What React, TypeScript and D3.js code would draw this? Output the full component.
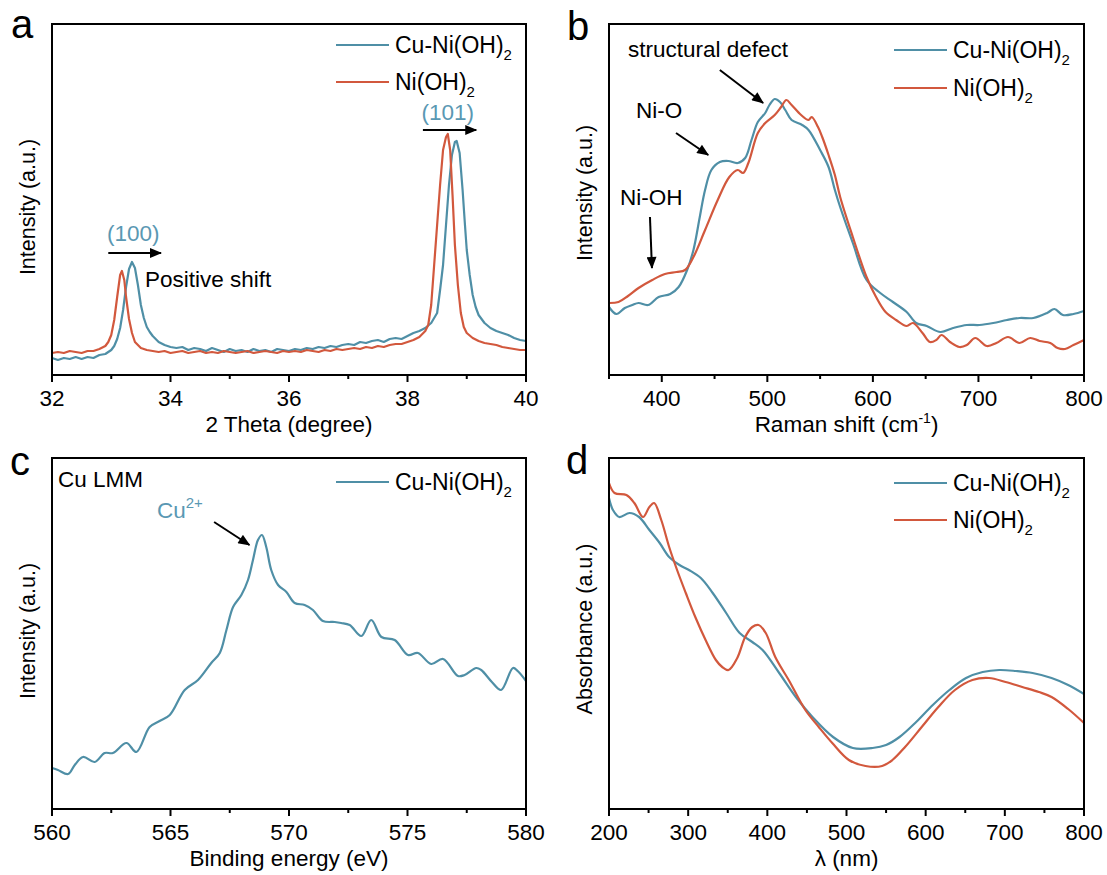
import React from 'react';
import * as d3 from 'd3';

type Pt = [number, number];

const TEAL = '#4f8fa6';
const RED = '#d2583d';
const LABEL_TEAL = '#5a98b3';
const FONT = '"Liberation Sans", Arial, Helvetica, sans-serif';
const FS = 22.5;

// (a) XRD, 2 theta (degree) vs intensity (a.u.)
const xrdCu: Pt[] = [
  [32.0, 17], [32.1, 15], [32.2, 17], [32.3, 16], [32.4, 18], [32.5, 16], [32.6, 18], [32.7, 17],
  [32.8, 20], [32.9, 21], [33.0, 25], [33.05, 29], [33.1, 36], [33.15, 47], [33.2, 65], [33.25, 88],
  [33.3, 106], [33.35, 113], [33.4, 107], [33.45, 90], [33.5, 70], [33.55, 57], [33.6, 48], [33.65, 43],
  [33.7, 39], [33.8, 33], [33.9, 30], [34.0, 28], [34.1, 27], [34.2, 28], [34.3, 25], [34.4, 27],
  [34.5, 26], [34.6, 24], [34.7, 27], [34.8, 25], [34.9, 23], [35.0, 26], [35.1, 24], [35.2, 25],
  [35.3, 23], [35.4, 26], [35.5, 24], [35.6, 25], [35.7, 23], [35.8, 26], [35.9, 25], [36.0, 24],
  [36.1, 26], [36.2, 25], [36.3, 27], [36.4, 26], [36.5, 28], [36.6, 27], [36.7, 29], [36.8, 28],
  [36.9, 30], [37.0, 31], [37.1, 30], [37.2, 33], [37.3, 32], [37.4, 34], [37.5, 35], [37.6, 33],
  [37.7, 36], [37.8, 37], [37.9, 36], [38.0, 39], [38.1, 42], [38.2, 44], [38.3, 47], [38.4, 52],
  [38.5, 62], [38.55, 85], [38.6, 110], [38.65, 150], [38.7, 190], [38.75, 220], [38.8, 233], [38.83, 234],
  [38.88, 222], [38.93, 185], [38.97, 150], [39.0, 125], [39.05, 100], [39.1, 80], [39.15, 68], [39.2, 60],
  [39.3, 52], [39.4, 47], [39.5, 44], [39.6, 42], [39.7, 40], [39.8, 37], [39.9, 35], [40.0, 34],
];
const xrdNi: Pt[] = [
  [32.0, 22], [32.1, 23], [32.2, 22], [32.3, 24], [32.4, 23], [32.5, 22], [32.6, 24], [32.7, 24],
  [32.8, 26], [32.9, 29], [32.95, 33], [33.0, 40], [33.05, 55], [33.1, 78], [33.15, 100], [33.18, 104],
  [33.22, 95], [33.25, 78], [33.3, 56], [33.35, 42], [33.4, 33], [33.5, 27], [33.6, 25], [33.7, 24],
  [33.8, 23], [33.9, 24], [34.0, 22], [34.1, 23], [34.2, 24], [34.3, 22], [34.4, 23], [34.5, 24],
  [34.6, 22], [34.7, 23], [34.8, 22], [34.9, 24], [35.0, 23], [35.1, 22], [35.2, 23], [35.3, 24],
  [35.4, 22], [35.5, 23], [35.6, 24], [35.7, 23], [35.8, 22], [35.9, 24], [36.0, 23], [36.1, 24],
  [36.2, 23], [36.3, 25], [36.4, 24], [36.5, 23], [36.6, 25], [36.7, 24], [36.8, 26], [36.9, 25],
  [37.0, 26], [37.1, 27], [37.2, 26], [37.3, 28], [37.4, 27], [37.5, 29], [37.6, 28], [37.7, 30],
  [37.8, 31], [37.9, 31], [38.0, 33], [38.1, 35], [38.2, 38], [38.3, 44], [38.35, 50], [38.4, 70],
  [38.45, 110], [38.5, 150], [38.55, 190], [38.6, 225], [38.65, 238], [38.68, 241], [38.72, 225], [38.76, 180],
  [38.8, 130], [38.85, 90], [38.9, 62], [38.95, 48], [39.0, 42], [39.1, 37], [39.2, 34], [39.3, 32],
  [39.4, 31], [39.5, 30], [39.6, 28], [39.7, 27], [39.8, 26], [39.9, 25], [40.0, 25],
];

// (b) Raman shift (cm-1) vs intensity
const ramanCu: Pt[] = [
  [350, 68], [357, 61], [365, 67], [372, 70], [378, 72], [387, 70], [397, 78], [408, 81], [416, 88],
  [424, 105], [430, 125], [436, 158], [441, 185], [447, 205], [455, 213], [463, 214], [472, 212],
  [479, 217], [485, 235], [491, 253], [498, 262], [502, 270], [507, 276], [512, 273], [517, 265],
  [523, 255], [533, 250], [539, 245], [550, 225], [558, 208], [564, 185], [569, 168], [581, 132],
  [594, 95], [607, 82], [619, 73], [632, 63], [641, 52], [651, 49], [664, 43], [676, 47], [689, 50],
  [701, 50], [714, 52], [727, 55], [739, 57], [752, 57], [765, 62], [772, 66], [780, 60], [790, 61], [800, 64],
];
const ramanNi: Pt[] = [
  [350, 72], [359, 73], [368, 79], [378, 87], [391, 95], [403, 101], [414, 103], [422, 105], [430, 118],
  [441, 145], [453, 175], [464, 198], [472, 205], [477, 202], [482, 212], [491, 242], [498, 252],
  [507, 260], [513, 268], [518, 275], [523, 270], [532, 260], [539, 255], [542, 258], [548, 248],
  [552, 238], [558, 220], [564, 200], [569, 178], [581, 138], [594, 98], [603, 78], [612, 63],
  [622, 55], [632, 49], [638, 52], [647, 42], [654, 33], [660, 35], [665, 40], [673, 33], [682, 28],
  [689, 30], [697, 37], [708, 29], [717, 32], [728, 38], [739, 32], [749, 37], [758, 34], [768, 32],
  [775, 27], [782, 26], [790, 30], [800, 35],
];

// (c) Cu LMM, binding energy (eV)
const xpsCu: Pt[] = [
  [560.0, 41], [560.25, 39], [560.68, 35], [560.96, 44], [561.31, 52], [561.8, 47], [562.22, 56],
  [562.57, 56], [563.14, 66], [563.56, 57], [564.12, 82], [564.54, 88], [564.97, 94], [565.6, 119],
  [566.16, 129], [566.72, 146], [567.08, 156], [567.36, 179], [567.64, 202], [567.99, 214], [568.27, 229],
  [568.48, 249], [568.69, 269], [568.86, 274], [569.04, 262], [569.25, 239], [569.54, 224], [569.89, 217],
  [570.24, 206], [570.66, 204], [571.01, 199], [571.43, 188], [571.93, 187], [572.2, 186], [572.56, 184],
  [573.05, 173], [573.47, 189], [573.9, 172], [574.46, 169], [575.02, 154], [575.44, 156], [576.0, 145],
  [576.5, 150], [577.13, 133], [577.41, 134], [577.9, 141], [578.11, 139], [578.56, 127], [578.95, 119],
  [579.45, 141], [579.65, 138], [580.0, 128],
];

// (d) UV-vis absorbance, wavelength (nm)
const uvCu: Pt[] = [
  [200, 311], [205, 299], [213, 292], [226, 296], [238, 292], [251, 279], [264, 266], [276, 252],
  [289, 244], [301, 239], [316, 231], [331, 216], [348, 196], [365, 176], [381, 167], [394, 159],
  [415, 136], [436, 112], [457, 92], [483, 72], [508, 61], [533, 61], [550, 64], [567, 72], [588, 87],
  [609, 104], [630, 119], [651, 131], [672, 137], [693, 139], [714, 138], [735, 136], [759, 131],
  [780, 124], [800, 115],
];
const uvNi: Pt[] = [
  [200, 326], [207, 316], [222, 314], [232, 306], [243, 292], [251, 302], [257, 306], [266, 289],
  [276, 262], [286, 239], [297, 216], [309, 192], [322, 169], [335, 149], [343, 142], [351, 139],
  [362, 151], [372, 172], [381, 182], [389, 184], [398, 176], [410, 152], [427, 129], [448, 99],
  [465, 82], [482, 66], [503, 49], [524, 43], [545, 43], [558, 49], [574, 62], [595, 82], [616, 102],
  [637, 119], [659, 129], [680, 131], [701, 127], [722, 122], [743, 117], [759, 112], [780, 100], [800, 86],
];

const ticksA = [32, 34, 36, 38, 40];
const minorA = [33, 35, 37, 39];
const ticksB = [400, 500, 600, 700, 800];
const minorB = [350, 450, 550, 650, 750];
const ticksC = [560, 565, 570, 575, 580];
const minorC = [562.5, 567.5, 572.5, 577.5];
const ticksD = [200, 300, 400, 500, 600, 700, 800];
const minorD = [250, 350, 450, 550, 650, 750];

type Box = { left: number; right: number; top: number; bottom: number };
type Scales = { x: d3.ScaleLinear<number, number>; y: d3.ScaleLinear<number, number> };

const Formula = ({ prefix }: { prefix: string }) => (
  <>
    {prefix}Ni(OH)<tspan dy={7} fontSize={15}>2</tspan>
  </>
);

const Arrow = ({ s, from, to }: { s: Scales; from: Pt; to: Pt }) => (
  <line
    x1={s.x(from[0])} y1={s.y(from[1])} x2={s.x(to[0])} y2={s.y(to[1])}
    stroke="#000" strokeWidth={2} markerEnd="url(#head)"
  />
);

type PanelProps = {
  box: Box;
  xDomain: [number, number];
  major: number[];
  minor: number[];
  series: { data: Pt[]; color: string }[];
  curve: d3.CurveFactory;
  letter: string;
  letterPos: [number, number];
  xTitle: React.ReactNode;
  yTitle: string;
  yTitlePos: [number, number];
  legend: { color: string; label: React.ReactNode; dy: number }[];
  extra?: (s: Scales) => React.ReactNode;
};

const Panel = (p: PanelProps) => {
  const { box } = p;
  const x = d3.scaleLinear().domain(p.xDomain).range([box.left, box.right]);
  const y = d3.scaleLinear().domain([0, box.bottom - box.top]).range([box.bottom, box.top]);
  const line = d3.line<Pt>().x(d => x(d[0])).y(d => y(d[1])).curve(p.curve);

  return (
    <g>
      {p.series.map((s, i) => (
        <path key={i} d={line(s.data) ?? ''} fill="none" stroke={s.color} strokeWidth={2.2} strokeLinejoin="round" />
      ))}
      <rect x={box.left} y={box.top} width={box.right - box.left} height={box.bottom - box.top}
        fill="none" stroke="#000" strokeWidth={2} />
      {p.major.map(t => (
        <g key={t}>
          <line x1={x(t)} x2={x(t)} y1={box.bottom} y2={box.bottom + 7} stroke="#000" strokeWidth={2} />
          <text x={x(t)} y={box.bottom + 31} textAnchor="middle" fontSize={FS}>{t}</text>
        </g>
      ))}
      {p.minor.map(t => (
        <line key={t} x1={x(t)} x2={x(t)} y1={box.bottom} y2={box.bottom + 4} stroke="#000" strokeWidth={2} />
      ))}
      <text x={(box.left + box.right) / 2} y={box.bottom + 57} textAnchor="middle" fontSize={FS}>{p.xTitle}</text>
      <text transform={`translate(${p.yTitlePos[0]},${p.yTitlePos[1]}) rotate(-90)`} textAnchor="middle" fontSize={21.5}>
        {p.yTitle}
      </text>
      <text x={p.letterPos[0]} y={p.letterPos[1]} fontSize={40}>{p.letter}</text>
      {p.legend.map((l, i) => (
        <g key={i}>
          <line x1={box.right - 190} x2={box.right - 137} y1={box.top + l.dy} y2={box.top + l.dy}
            stroke={l.color} strokeWidth={2.2} />
          <text x={box.right - 131} y={box.top + l.dy + 8} fontSize={23}>{l.label}</text>
        </g>
      ))}
      {p.extra && p.extra({ x, y })}
    </g>
  );
};

const boxA: Box = { left: 52, right: 526, top: 24, bottom: 375 };
const boxB: Box = { left: 609, right: 1084, top: 24, bottom: 375 };
const boxC: Box = { left: 52, right: 526, top: 458, bottom: 809 };
const boxD: Box = { left: 609, right: 1084, top: 458, bottom: 809 };

const legendTwo = (d1: number, d2: number) => [
  { color: TEAL, label: <Formula prefix="Cu-" />, dy: d1 },
  { color: RED, label: <Formula prefix="" />, dy: d2 },
];

export default function App() {
  return (
    <svg width={1107} height={875} style={{ position: 'absolute', left: 0, top: 0, background: '#fff' }}
      fontFamily={FONT} fill="#000">
      <defs>
        <marker id="head" viewBox="0 0 12 10" refX={11} refY={5} markerWidth={14} markerHeight={10}
          markerUnits="userSpaceOnUse" orient="auto">
          <path d="M0,0 L12,5 L0,10 z" fill="#000" />
        </marker>
      </defs>

      <Panel
        box={boxA} xDomain={[32, 40]} major={ticksA} minor={minorA}
        series={[{ data: xrdCu, color: TEAL }, { data: xrdNi, color: RED }]}
        curve={d3.curveLinear}
        letter="a" letterPos={[11, 38]}
        xTitle="2 Theta (degree)" yTitle="Intensity (a.u.)" yTitlePos={[35, 207]}
        legend={legendTwo(21, 58)}
        extra={s => (
          <g fontSize={FS}>
            <text x={s.x(33.37)} y={s.y(134)} textAnchor="middle" fill={LABEL_TEAL}>(100)</text>
            <Arrow s={s} from={[32.95, 122]} to={[33.84, 122]} />
            <text x={s.x(33.57)} y={s.y(88)}>Positive shift</text>
            <text x={s.x(38.68)} y={s.y(255)} textAnchor="middle" fill={LABEL_TEAL}>(101)</text>
            <Arrow s={s} from={[38.26, 245]} to={[39.16, 245]} />
          </g>
        )}
      />

      <Panel
        box={boxB} xDomain={[350, 800]} major={ticksB} minor={minorB}
        series={[{ data: ramanCu, color: TEAL }, { data: ramanNi, color: RED }]}
        curve={d3.curveCatmullRom}
        letter="b" letterPos={[567, 40]}
        xTitle={<>Raman shift (cm<tspan dy={-9} fontSize={14}>-1</tspan><tspan dy={9}>)</tspan></>}
        yTitle="Intensity (a.u.)" yTitlePos={[592, 193]}
        legend={legendTwo(26, 64)}
        extra={s => (
          <g fontSize={FS}>
            <text x={s.x(368)} y={s.y(318)}>structural defect</text>
            <Arrow s={s} from={[455, 305]} to={[496, 272]} />
            <text x={s.x(375.5)} y={s.y(257)}>Ni-O</text>
            <Arrow s={s} from={[413.5, 242]} to={[444, 220]} />
            <text x={s.x(360.5)} y={s.y(170)}>Ni-OH</text>
            <Arrow s={s} from={[388.8, 158]} to={[390.7, 107]} />
          </g>
        )}
      />

      <Panel
        box={boxC} xDomain={[560, 580]} major={ticksC} minor={minorC}
        series={[{ data: xpsCu, color: TEAL }]}
        curve={d3.curveCatmullRom}
        letter="c" letterPos={[10, 475]}
        xTitle="Binding energy (eV)" yTitle="Intensity (a.u.)" yTitlePos={[35, 631]}
        legend={[{ color: TEAL, label: <Formula prefix="Cu-" />, dy: 24 }]}
        extra={s => (
          <g fontSize={FS}>
            <text x={s.x(560.25)} y={s.y(322)}>Cu LMM</text>
            <text x={s.x(564.43)} y={s.y(291)} fill={LABEL_TEAL}>
              Cu<tspan dy={-10} fontSize={15}>2+</tspan>
            </text>
            <Arrow s={s} from={[566.84, 287]} to={[568.33, 264]} />
          </g>
        )}
      />

      <Panel
        box={boxD} xDomain={[200, 800]} major={ticksD} minor={minorD}
        series={[{ data: uvCu, color: TEAL }, { data: uvNi, color: RED }]}
        curve={d3.curveCatmullRom}
        letter="d" letterPos={[566, 474]}
        xTitle="λ (nm)" yTitle="Absorbance (a.u.)" yTitlePos={[592, 629]}
        legend={legendTwo(25, 62)}
      />
    </svg>
  );
}
